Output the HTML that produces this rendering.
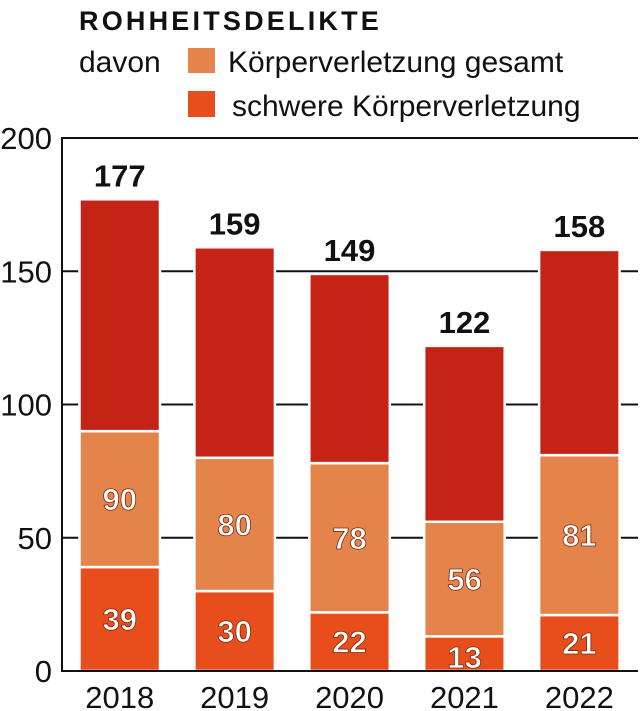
<!DOCTYPE html>
<html><head><meta charset="utf-8">
<style>
html,body{margin:0;padding:0;background:#fff;width:644px;height:711px;overflow:hidden}
svg{display:block}
text{font-family:"Liberation Sans Narrow","Liberation Sans",sans-serif}
</style></head>
<body>
<svg id="chart" width="644" height="711" viewBox="0 0 644 711" xmlns="http://www.w3.org/2000/svg">
  <text x="79" y="30" font-size="27" font-weight="bold" letter-spacing="3.2" fill="#111">ROHHEITSDELIKTE</text>
  <text x="79" y="72" font-size="30" fill="#111">davon</text>
  <g>
    <rect x="188" y="48" width="27" height="25" fill="#e5844a"/>
    <text x="228" y="72" font-size="30" fill="#111">Körperverletzung gesamt</text>
  </g>
  <g>
    <rect x="188" y="91" width="27" height="26" fill="#e84e1b"/>
    <text x="232" y="116" font-size="30" fill="#111">schwere Körperverletzung</text>
  </g>
  <g id="plot"></g>
</svg>
<script>
const categories = ["2018","2019","2020","2021","2022"];
const totalValues = [177,159,149,122,158];
const koerperValues = [90,80,78,56,81];
const schwerValues = [39,30,22,13,21];
const yTicks = [0,50,100,150,200];

const NS = "http://www.w3.org/2000/svg";
const plot = document.getElementById("plot");
const y0 = 671, yTop = 138, yMax = 200;
const axisX = 62, rightX = 638;
function y(v){ return y0 - v*(y0-yTop)/yMax; }
const firstX = 79.5, step = 114.9, barW = 80.5;
function x(i){ return firstX + i*step; }
function el(tag, attrs){ const e=document.createElementNS(NS,tag); for(const k in attrs) e.setAttribute(k,attrs[k]); plot.appendChild(e); return e; }

// gridlines and ticks
yTicks.forEach(t=>{
  if(t>0){
    const g = el("line",{x1:axisX,x2:rightX,y1:y(t),y2:y(t),stroke:"#111","stroke-width":2});
    
    
  }
  const lab = el("text",{x:52,y:y(t)+11,"font-size":31,"text-anchor":"end",fill:"#111"});
  lab.textContent = t;
  
  
});
const ax = el("line",{x1:axisX,x2:axisX,y1:y(200)-1,y2:y0+1,stroke:"#111","stroke-width":2});



categories.forEach((c,i)=>{
  const bx = x(i);
  const segs = [
    [0, schwerValues[i], "#e84e1b", "bar-schwer-"+c],
    [schwerValues[i], koerperValues[i], "#e5844a", "bar-koerper-"+c],
    [koerperValues[i], totalValues[i], "#c42315", "bar-sonstige-"+c]
  ];
  segs.forEach(s=>{
    const r = el("rect",{x:bx,y:y(s[1]),width:barW,height:y(s[0])-y(s[1]),fill:s[2],stroke:"#fff","stroke-width":2.5});
    
    
  });
  const cx = bx + barW/2;
  const tl = el("text",{x:cx,y:y(totalValues[i])-13,"font-size":31,"font-weight":"bold","text-anchor":"middle",fill:"#111"});
  tl.textContent = totalValues[i];
  
  
  const km = (y(schwerValues[i])+y(koerperValues[i]))/2;
  const kl = el("text",{x:cx,y:km+11,"font-size":31,"font-weight":"bold","text-anchor":"middle",fill:"#fff",stroke:"#7a2a10","stroke-width":0.8});
  kl.textContent = koerperValues[i];
  
  
  const sm = Math.max((y(0)+y(schwerValues[i]))/2, 0) ;
  const sy = schwerValues[i] < 18 ? y0-3 : sm+11;
  const sl = el("text",{x:cx,y:sy,"font-size":31,"font-weight":"bold","text-anchor":"middle",fill:"#fff",stroke:"#7a2a10","stroke-width":0.8});
  sl.textContent = schwerValues[i];
  
  
  const xl = el("text",{x:cx,y:708,"font-size":31,"text-anchor":"middle",fill:"#111"});
  xl.textContent = c;
  
  
});
const base = el("line",{x1:axisX-1,x2:rightX,y1:y0,y2:y0,stroke:"#111","stroke-width":2});


</script>
</body></html>
